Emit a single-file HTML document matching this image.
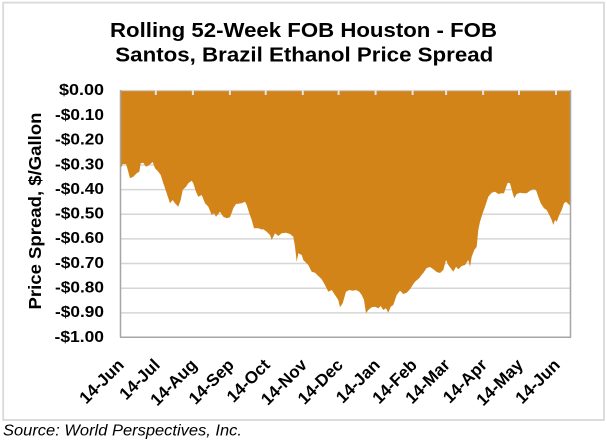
<!DOCTYPE html>
<html>
<head>
<meta charset="utf-8">
<style>
html,body{margin:0;padding:0;background:#fff;}
svg{display:block;}
text{font-family:"Liberation Sans",Arial,sans-serif;fill:#000;}
</style>
</head>
<body>
<svg width="607" height="442" viewBox="0 0 607 442" xmlns="http://www.w3.org/2000/svg">
  <!-- outer border -->
  <rect x="3.2" y="2.6" width="600.8" height="417.4" fill="#fff" stroke="#d9d9d9" stroke-width="1.8"/>

  <!-- title -->
  <text x="303.5" y="37" font-size="20.5" font-weight="bold" text-anchor="middle" textLength="387" lengthAdjust="spacingAndGlyphs">Rolling 52-Week FOB Houston  - FOB</text>
  <text x="304.3" y="61.7" font-size="20.5" font-weight="bold" text-anchor="middle" textLength="378" lengthAdjust="spacingAndGlyphs">Santos, Brazil Ethanol Price Spread</text>

  <!-- gridlines -->
  <g stroke="#d6d6d6" stroke-width="1.5">
    <line x1="120" y1="115.65" x2="570" y2="115.65"/>
    <line x1="120" y1="140.3" x2="570" y2="140.3"/>
    <line x1="120" y1="164.95" x2="570" y2="164.95"/>
    <line x1="120" y1="189.6" x2="570" y2="189.6"/>
    <line x1="120" y1="214.25" x2="570" y2="214.25"/>
    <line x1="120" y1="238.9" x2="570" y2="238.9"/>
    <line x1="120" y1="263.55" x2="570" y2="263.55"/>
    <line x1="120" y1="288.2" x2="570" y2="288.2"/>
    <line x1="120" y1="312.85" x2="570" y2="312.85"/>
  </g>

  <!-- area -->
  <polygon fill="#d38419" points="120,91 120,167 121.7,166.7 122.7,164 126,164 127.3,168.3 130,178.3 133.3,176.7 136.7,173.3 139.3,171.7 140.7,163.3 143.3,162.7 146,166.7 149.3,165 152.7,162 155,168.3 158.3,171.7 160.7,175 163.3,183.3 166.7,193.3 170,203.3 172.7,200 175,203.3 178.3,206.7 180.7,200 182.7,190 186,186.7 188.3,183.3 191.7,180.7 193.3,183.3 196,191.7 198.3,196.7 201.7,195 205,203.3 208.3,206.7 211.7,215 214,213.3 216,216.7 220,211.7 223.3,216.7 226.7,218.3 230,217.3 233.3,208.3 236,204 241.7,203.3 245,201.7 246.7,205 249.3,213.3 251.7,220 254,228.3 258.3,228.3 261.7,229.5 263.3,229.3 266.7,231.7 270,235 271.7,240 275,233.3 278.3,236 281.7,233.3 286,232.7 290,234 293.3,236.7 295,246.7 296.7,261.7 298.3,253.3 301.7,255 303.3,260 308.3,265 311.7,271.7 315,272.7 318.3,276 321.7,279.3 325,285 328.3,291.7 331.7,290 335,295 338.3,300 340,307.3 342.7,303.3 346,291.7 349.3,290 352.7,290.7 356,290 359.3,291.7 361.7,295 364,300 366,313.3 368.3,310 371.7,307.3 375,306.7 378.3,308.3 380.7,306 383.3,310 386,308.3 388.3,312.7 390.7,306.7 393.3,305 395,300 396.7,295 400,290.7 403.3,294 406.7,292.7 410,289.3 412.7,285 415,281.7 419.3,278 421.5,275 423.3,273 426.7,268 430,267 433,269 436.7,272 440,273 443.3,270 446,260 448.3,265 450.7,268.3 453.3,271.7 456,266.7 458.3,269.3 461.7,266 465,265 468.3,260 470,266.7 471.7,256.7 474.3,250 476.7,246.7 478.3,230 480,221.7 482.7,213.3 485,206.7 488.3,196.7 491.7,192.7 495,191.7 498.3,194 501.7,193.3 504,193.3 506,187.3 507.7,182.7 510,183.3 512.7,193.3 514.3,198.3 516.7,194 520,192.7 523.3,193.3 526.7,193.3 530,190.7 533.3,189.3 536,190 538.3,196.7 540.7,203.3 544,208.3 546.7,210 549.3,215 551.7,220 553.3,225 555,220 556.7,221.7 559.3,215 561.7,210 564,203.3 566,201.7 569.3,205 570,205 570,91"/>

  <!-- top axis line and ticks -->
  <line x1="120" y1="90.5" x2="570.5" y2="90.5" stroke="#d0d0d0" stroke-width="1.2"/>
  <g stroke="#e4e4e4" stroke-width="2">
    <line x1="155.8" y1="90" x2="155.8" y2="95"/>
    <line x1="192.9" y1="90" x2="192.9" y2="95"/>
    <line x1="229.9" y1="90" x2="229.9" y2="95"/>
    <line x1="265.7" y1="90" x2="265.7" y2="95"/>
    <line x1="302.8" y1="90" x2="302.8" y2="95"/>
    <line x1="338.6" y1="90" x2="338.6" y2="95"/>
    <line x1="375.6" y1="90" x2="375.6" y2="95"/>
    <line x1="412.6" y1="90" x2="412.6" y2="95"/>
    <line x1="446.1" y1="90" x2="446.1" y2="95"/>
    <line x1="483.1" y1="90" x2="483.1" y2="95"/>
    <line x1="519" y1="90" x2="519" y2="95"/>
    <line x1="556" y1="90" x2="556" y2="95"/>
  </g>

  <!-- plot border -->
  <g stroke="#a6a6a6" stroke-width="1.5" fill="none">
    <line x1="120.5" y1="90" x2="120.5" y2="337.5"/>
    <line x1="120" y1="337.3" x2="571" y2="337.3"/>
    <line x1="570.5" y1="90" x2="570.5" y2="337.5"/>
  </g>

  <!-- y labels -->
  <g font-size="16" font-weight="bold" text-anchor="end">
    <text x="104" y="94.8" textLength="45" lengthAdjust="spacingAndGlyphs">$0.00</text>
    <text x="104" y="120" textLength="49" lengthAdjust="spacingAndGlyphs">-$0.10</text>
    <text x="104" y="144.6" textLength="49" lengthAdjust="spacingAndGlyphs">-$0.20</text>
    <text x="104" y="169.3" textLength="49" lengthAdjust="spacingAndGlyphs">-$0.30</text>
    <text x="104" y="193.9" textLength="49" lengthAdjust="spacingAndGlyphs">-$0.40</text>
    <text x="104" y="218.6" textLength="49" lengthAdjust="spacingAndGlyphs">-$0.50</text>
    <text x="104" y="243.2" textLength="49" lengthAdjust="spacingAndGlyphs">-$0.60</text>
    <text x="104" y="267.9" textLength="49" lengthAdjust="spacingAndGlyphs">-$0.70</text>
    <text x="104" y="292.5" textLength="49" lengthAdjust="spacingAndGlyphs">-$0.80</text>
    <text x="104" y="317.2" textLength="49" lengthAdjust="spacingAndGlyphs">-$0.90</text>
    <text x="104" y="341.8" textLength="49.5" lengthAdjust="spacingAndGlyphs">-$1.00</text>
  </g>

  <!-- y title -->
  <text transform="translate(41,211) rotate(-90)" font-size="17.5" font-weight="bold" text-anchor="middle" textLength="197" lengthAdjust="spacingAndGlyphs">Price Spread, $/Gallon</text>

  <!-- x labels -->
  <g font-size="17" font-weight="bold" text-anchor="end">
    <text transform="translate(125,366) rotate(-45)">14-Jun</text>
    <text transform="translate(161,366) rotate(-45)">14-Jul</text>
    <text transform="translate(198,366) rotate(-45)">14-Aug</text>
    <text transform="translate(235,366) rotate(-45)">14-Sep</text>
    <text transform="translate(271,366) rotate(-45)">14-Oct</text>
    <text transform="translate(308,366) rotate(-45)">14-Nov</text>
    <text transform="translate(344,366) rotate(-45)">14-Dec</text>
    <text transform="translate(381,366) rotate(-45)">14-Jan</text>
    <text transform="translate(418,366) rotate(-45)">14-Feb</text>
    <text transform="translate(451,366) rotate(-45)">14-Mar</text>
    <text transform="translate(488,366) rotate(-45)">14-Apr</text>
    <text transform="translate(524,366) rotate(-45)">14-May</text>
    <text transform="translate(561,366) rotate(-45)">14-Jun</text>
  </g>

  <!-- source -->
  <text x="3" y="435.5" font-size="15.5" font-style="italic" textLength="239" lengthAdjust="spacingAndGlyphs">Source: World Perspectives, Inc.</text>
</svg>
</body>
</html>
